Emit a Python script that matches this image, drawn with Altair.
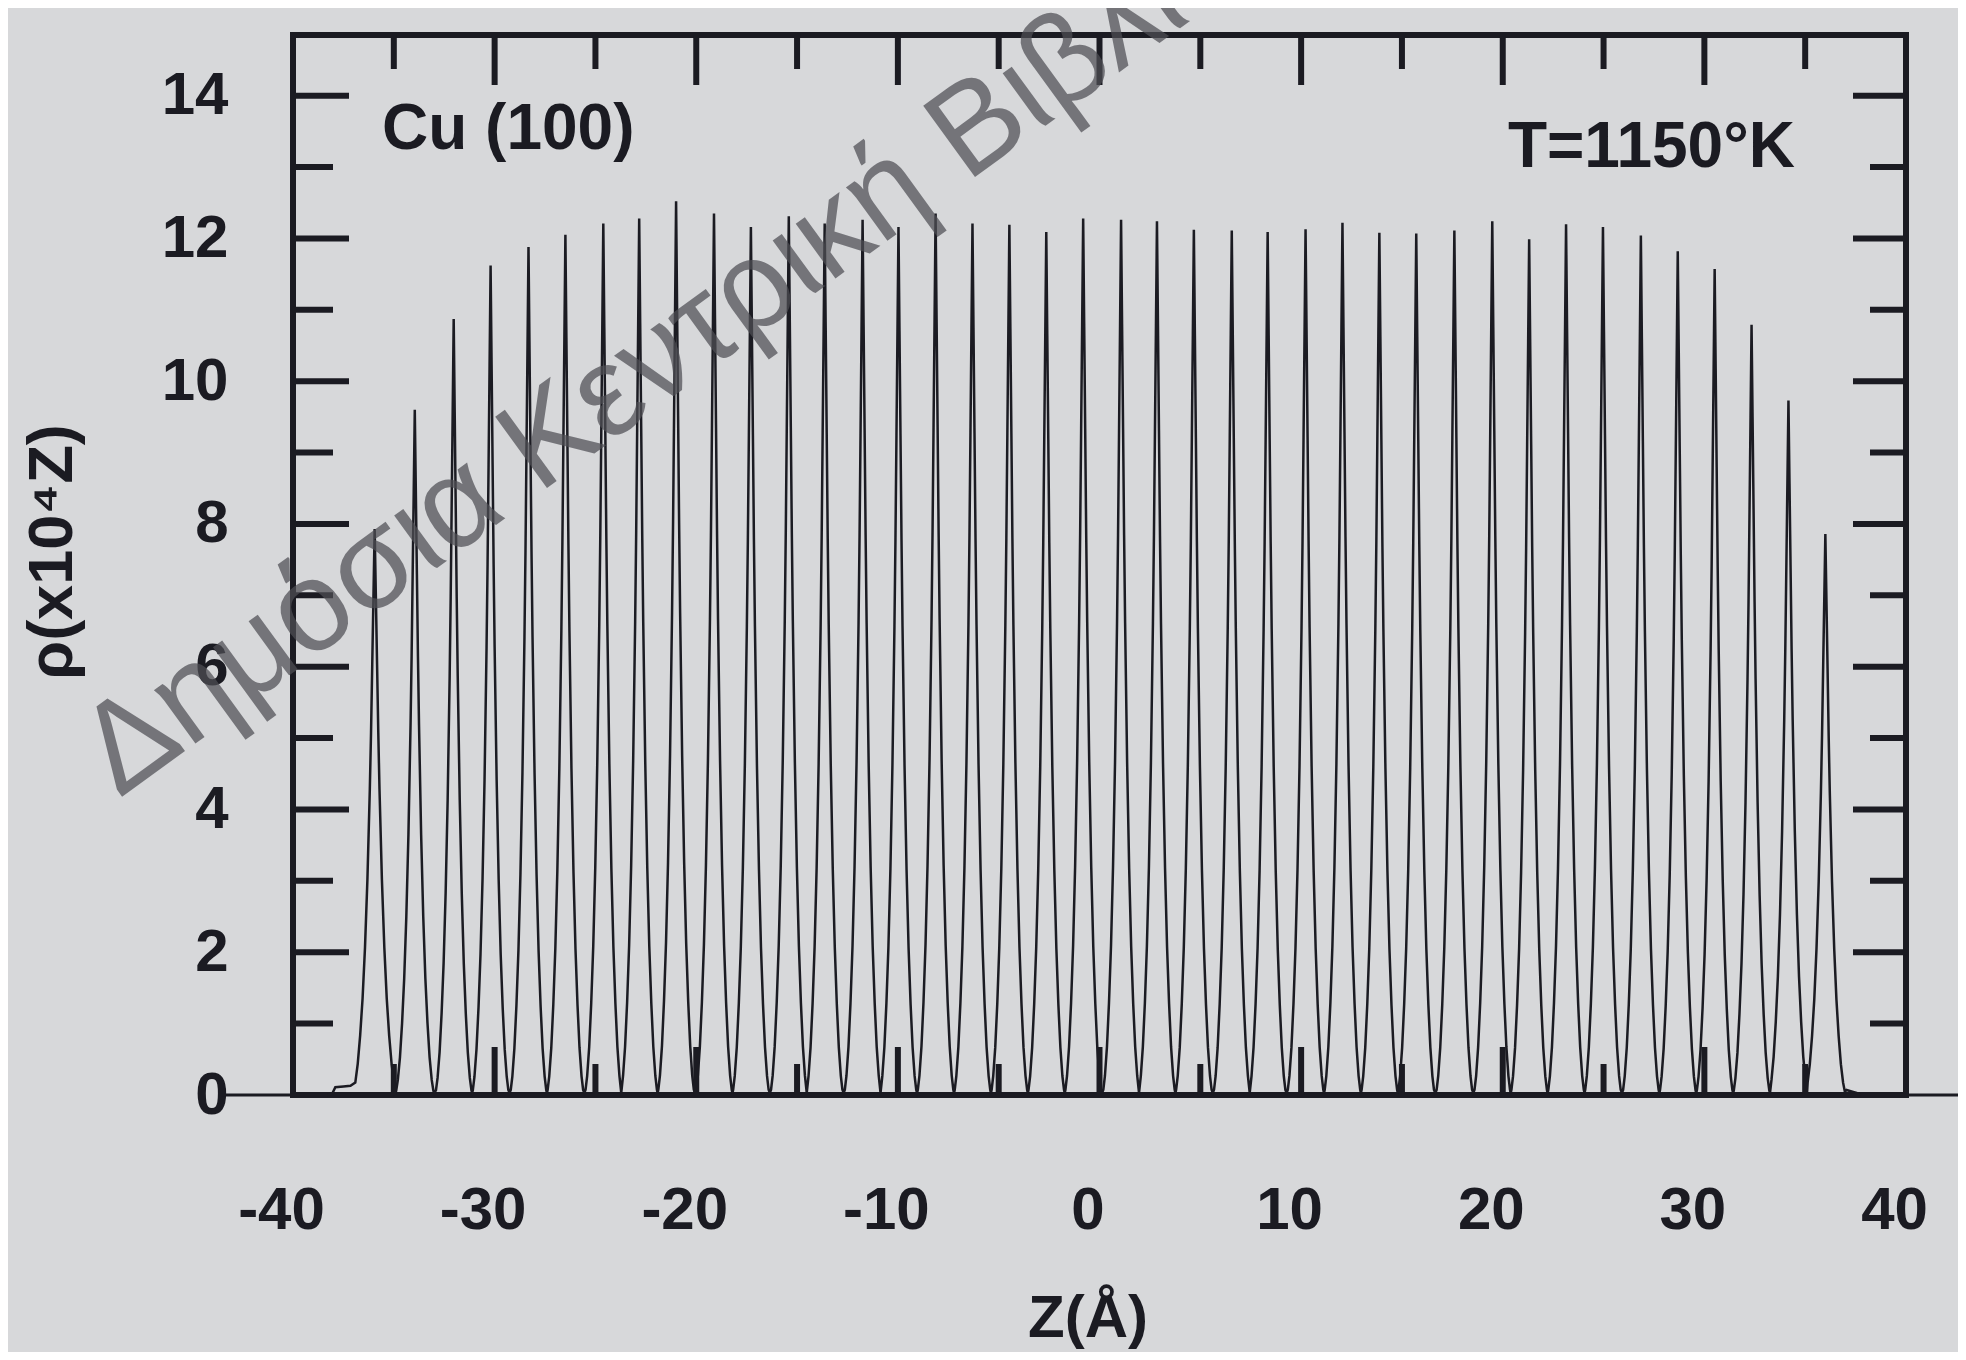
import altair as alt
import pandas as pd

# ---------------- data ----------------
# layer (peak) positions in Å and peak heights in units of 10^4 Z
peak_z = [-35.95, -33.96, -32.03, -30.20, -28.32, -26.49, -24.61, -22.83, -21.00, -19.12,
          -17.29, -15.41, -13.63, -11.75, -9.97, -8.13, -6.30, -4.47, -2.64, -0.81,
          1.07, 2.85, 4.68, 6.56, 8.34, 10.22, 12.05, 13.88, 15.71, 17.60,
          19.48, 21.31, 23.14, 24.97, 26.85, 28.68, 30.51, 32.34, 34.17, 36.00]
peak_rho = [7.93, 9.60, 10.87, 11.62, 11.88, 12.05, 12.21, 12.28, 12.52, 12.35,
            12.16, 12.31, 12.21, 12.26, 12.16, 12.35, 12.21, 12.19, 12.09, 12.28,
            12.26, 12.24, 12.12, 12.11, 12.09, 12.13, 12.22, 12.08, 12.07, 12.11,
            12.24, 11.99, 12.20, 12.16, 12.04, 11.82, 11.57, 10.79, 9.73, 7.86]
# relative peak widths (surface layers are broader)
peak_width = [1.20, 1.05, 1.0, 1.0, 1.0, 1.0, 1.0, 1.0, 1.0, 1.0,
              1.0, 1.0, 1.0, 1.0, 1.0, 1.0, 1.0, 1.0, 1.0, 1.0,
              1.0, 1.0, 1.0, 1.0, 1.0, 1.0, 1.0, 1.0, 1.0, 1.0,
              1.0, 1.0, 1.0, 1.0, 1.0, 1.0, 1.0, 1.0, 1.05, 1.10]
# shape of one peak: distance from centre (Å) -> fraction of height
profile_dz = [0.05, 0.10, 0.15, 0.20, 0.30, 0.40, 0.50, 0.60, 0.70, 0.80, 0.88]
profile_frac = [0.88, 0.76, 0.64, 0.54, 0.38, 0.26, 0.17, 0.105, 0.055, 0.022, 0.006]
valley_rho = 0.03
# small feet outside the outermost layers
foot_left_z = [-38.30, -38.05, -37.90, -37.50, -37.15]
foot_left_rho = [0.0, 0.02, 0.11, 0.12, 0.13]
foot_right_z = [37.05, 37.30, 37.55, 37.75]
foot_right_rho = [0.07, 0.05, 0.03, 0.0]

x_major = [-30, -20, -10, 0, 10, 20, 30]
x_minor = [-35, -25, -15, -5, 5, 15, 25, 35]
x_labels = [-40, -30, -20, -10, 0, 10, 20, 30, 40]
y_major = [2, 4, 6, 8, 10, 12, 14]
y_minor = [1, 3, 5, 7, 9, 11, 13]
y_labels = [0, 2, 4, 6, 8, 10, 12, 14]

# ---------------- build the profile line ----------------
zs, rs = [], []
zs += foot_left_z
rs += foot_left_rho
n = len(peak_z)
for i, c in enumerate(peak_z):
    h = peak_rho[i]
    w = peak_width[i]
    lo = (peak_z[i - 1] + c) / 2 if i > 0 else None
    hi = (c + peak_z[i + 1]) / 2 if i < n - 1 else None
    for dz, f in reversed(list(zip(profile_dz, profile_frac))):
        z = c - dz * w
        if lo is not None and z <= lo + 0.02:
            continue
        if i == 0 and dz > 0.8:
            continue
        zs.append(z)
        rs.append(h * f)
    zs.append(c)
    rs.append(h)
    for dz, f in zip(profile_dz, profile_frac):
        z = c + dz * w
        if hi is not None and z >= hi - 0.02:
            continue
        zs.append(z)
        rs.append(h * f)
    if hi is not None:
        zs.append(hi)
        rs.append(valley_rho)
zs += foot_right_z
rs += foot_right_rho
line_df = pd.DataFrame({"z": zs, "rho": rs, "k": list(range(len(zs)))})

# ---------------- styling ----------------
W, H = 1613, 1060
INK = "#1b1b22"
BG = "#d7d8da"
FONT = "Liberation Sans"

xs = alt.Scale(domain=[-40, 40], nice=False, zero=False)
ys = alt.Scale(domain=[0, 14.85], nice=False, zero=False)

base = alt.Chart(line_df)
curve = base.mark_line(color=INK, strokeWidth=2.5, interpolate="linear").encode(
    x=alt.X("z:Q", scale=xs,
            axis=alt.Axis(values=x_labels, title=None, grid=False, ticks=False, domain=False,
                          labelFont=FONT, labelFontSize=60, labelFontWeight="bold",
                          labelColor=INK, labelPadding=86, labelOffset=-12,
                          labelExpr="'' + datum.value", labelFlush=False)),
    y=alt.Y("rho:Q", scale=ys,
            axis=alt.Axis(values=y_labels, title=None, grid=False, ticks=False, domain=False,
                          labelFont=FONT, labelFontSize=60, labelFontWeight="bold",
                          labelColor=INK, labelPadding=65, labelExpr="'' + datum.value",
                          labelFlush=False)),
    order="k:Q",
)


def xticks(vals, length, top):
    d = pd.DataFrame({"z": vals})
    if top:
        return alt.Chart(d).mark_rule(color=INK, strokeWidth=6).encode(
            x=alt.X("z:Q", scale=xs), y=alt.value(0), y2=alt.value(length))
    return alt.Chart(d).mark_rule(color=INK, strokeWidth=6).encode(
        x=alt.X("z:Q", scale=xs), y=alt.value(H), y2=alt.value(H - length))


def yticks(vals, length, right):
    d = pd.DataFrame({"rho": vals})
    if right:
        return alt.Chart(d).mark_rule(color=INK, strokeWidth=6).encode(
            y=alt.Y("rho:Q", scale=ys), x=alt.value(W - length), x2=alt.value(W))
    return alt.Chart(d).mark_rule(color=INK, strokeWidth=6).encode(
        y=alt.Y("rho:Q", scale=ys), x=alt.value(0), x2=alt.value(length))


ticks = [
    xticks(x_major, 50, True), xticks(x_minor, 34, True),
    xticks(x_major, 48, False), xticks(x_minor, 31, False),
    yticks(y_major, 56, False), yticks(y_minor, 40, False),
    yticks(y_major, 53, True), yticks(y_minor, 36, True),
]

zero_line = alt.Chart(pd.DataFrame({"rho": [0]})).mark_rule(color=INK, strokeWidth=3).encode(
    y=alt.Y("rho:Q", scale=ys), x=alt.value(-72), x2=alt.value(W + 70))


def text(t, x, y, size, align="left", baseline="alphabetic", angle=0, color=INK,
         weight="bold", opacity=1.0):
    return alt.Chart(pd.DataFrame({"t": [t]})).mark_text(
        font=FONT, fontSize=size, fontWeight=weight, align=align, baseline=baseline,
        angle=angle, color=color, opacity=opacity).encode(
        x=alt.value(x), y=alt.value(y), text="t:N")


texts = [
    text("Cu (100)", 89, 114, 64),
    text("T=1150°K", 1502, 132, 64, align="right"),
    text("ρ(x10⁴Z)", -240, 517, 63, align="center", baseline="middle", angle=270),
    text("Z(Å)", 795, 1284, 60, align="center", baseline="middle"),
    text("Δημόσια Κεντρική Βιβλιοθήκη", -174, 764, 128, angle=324, color="#4f4f55",
         weight="normal", opacity=0.72),
]

chart = alt.layer(zero_line, curve, *ticks, *texts).properties(
    width=W, height=H,
    padding={"left": 285, "top": 27, "right": 52, "bottom": 257},
    autosize="none",
    background=BG,
).configure_view(stroke=INK, strokeWidth=6)

chart.save("out.html", embed_options={"renderer": "svg", "actions": False})
